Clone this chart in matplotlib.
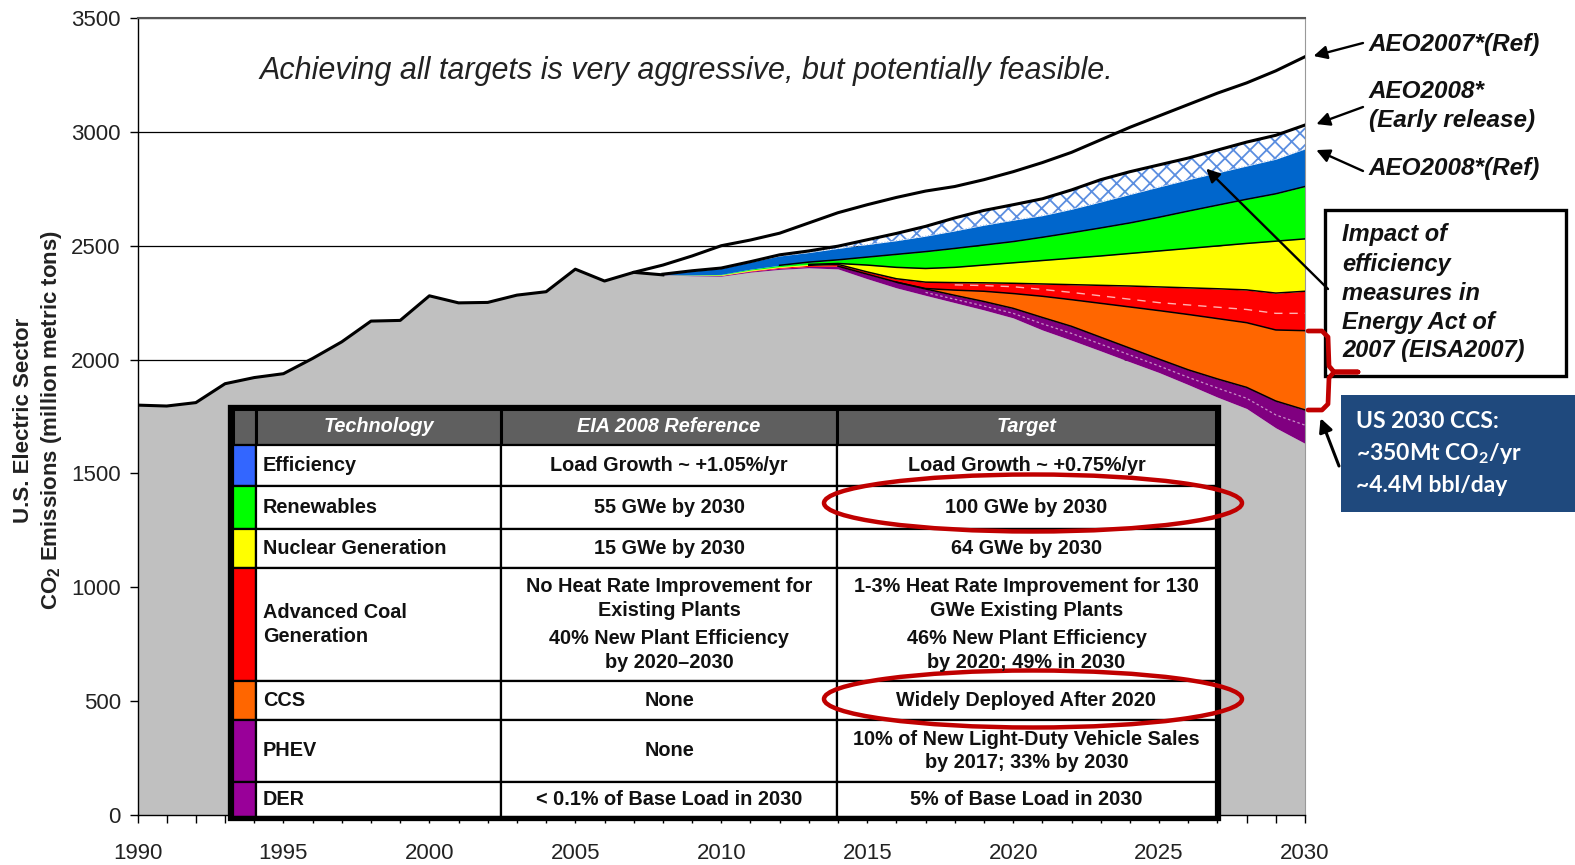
import matplotlib.pyplot as plt
import matplotlib.patches as mpatches
from matplotlib.path import Path

plt.rcParams['font.family'] = ['Liberation Sans', 'DejaVu Sans']
plt.rcParams['mathtext.default'] = 'regular'
plt.rcParams['hatch.linewidth'] = 1.3

W, H = 1575, 865

# historical electric-sector CO2 (million metric tons)
hist_years = list(range(1990, 2008))
hist_co2 = [1800, 1796, 1811, 1894, 1921, 1938, 2005, 2078, 2169, 2172,
            2280, 2249, 2251, 2283, 2298, 2397, 2345, 2383]

# projections, each list is the upper edge of a wedge (stacked from the target up)
proj_years = list(range(2007, 2031))
target = [2383, 2372, 2368, 2366, 2384, 2396, 2403, 2398, 2355, 2315, 2282, 2250,
          2218, 2183, 2130, 2085, 2038, 1990, 1943, 1890, 1835, 1785, 1700, 1632]
phev_der = [2383, 2373, 2370, 2369, 2388, 2401, 2409, 2410, 2375, 2340, 2310, 2282,
            2255, 2225, 2185, 2146, 2098, 2050, 2002, 1955, 1915, 1878, 1818, 1779]
ccs = [2383, 2373, 2370, 2369, 2388, 2401, 2409, 2410, 2375, 2340, 2312, 2305,
       2300, 2290, 2278, 2263, 2247, 2231, 2215, 2198, 2180, 2162, 2130, 2127]
adv_coal = [2383, 2373, 2370, 2370, 2390, 2405, 2414, 2418, 2385, 2355, 2340, 2338,
            2337, 2335, 2332, 2329, 2326, 2323, 2319, 2315, 2311, 2306, 2292, 2300]
nuclear = [2383, 2373, 2371, 2372, 2393, 2408, 2418, 2422, 2415, 2405, 2400, 2405,
           2415, 2425, 2435, 2445, 2455, 2466, 2477, 2488, 2499, 2510, 2520, 2530]
renewables = [2383, 2373, 2372, 2374, 2397, 2414, 2428, 2438, 2450, 2462, 2474, 2488,
              2503, 2518, 2537, 2557, 2578, 2600, 2625, 2652, 2678, 2704, 2728, 2760]
aeo2008_ref = [2383, 2375, 2388, 2400, 2428, 2455, 2470, 2488, 2505, 2522, 2542, 2565,
               2590, 2612, 2632, 2660, 2692, 2725, 2758, 2790, 2820, 2850, 2880, 2925]
aeo2008_early = [2383, 2375, 2390, 2402, 2430, 2460, 2477, 2498, 2526, 2554, 2585, 2622,
                 2655, 2680, 2706, 2745, 2790, 2825, 2855, 2885, 2920, 2955, 2985, 3030]
aeo2007_ref = [2383, 2415, 2455, 2500, 2525, 2555, 2600, 2645, 2680, 2712, 2740, 2760,
               2790, 2825, 2865, 2910, 2965, 3020, 3070, 3120, 3170, 3215, 3268, 3330]

# split lines inside the coal and PHEV/DER wedges
split_years = list(range(2017, 2031))
coal_split = [2330, 2328, 2325, 2320, 2308, 2295, 2280, 2265, 2250, 2240, 2230, 2220, 2203, 2203]
phev_split = [2295, 2265, 2235, 2203, 2157, 2115, 2068, 2020, 1972, 1922, 1875, 1830, 1757, 1712]

# table contents
headers = ['Technology', 'EIA 2008 Reference', 'Target']
tech_names = ['Efficiency', 'Renewables', 'Nuclear Generation', 'Advanced Coal\nGeneration',
              'CCS', 'PHEV', 'DER']
tech_colors = ['#3366ff', '#00ff00', '#ffff00', '#ff0000', '#ff6600', '#990099', '#990099']
eia_2008 = ['Load Growth ~ +1.05%/yr', '55 GWe by 2030', '15 GWe by 2030',
            'No Heat Rate Improvement for\nExisting Plants\n\n40% New Plant Efficiency\nby 2020\u20132030',
            'None', 'None', '< 0.1% of Base Load in 2030']
targets = ['Load Growth ~ +0.75%/yr', '100 GWe by 2030', '64 GWe by 2030',
           '1-3% Heat Rate Improvement for 130\nGWe Existing Plants\n\n46% New Plant Efficiency\nby 2020; 49% in 2030',
           'Widely Deployed After 2020',
           '10% of New Light-Duty Vehicle Sales\nby 2017; 33% by 2030', '5% of Base Load in 2030']

fig = plt.figure(figsize=(W / 100, H / 100), dpi=100)
ax = fig.add_axes([137.5 / W, (H - 815) / H, (1305 - 137.5) / W, (815 - 18) / H])

# gray = remaining emissions (history + target path)
all_years = hist_years + proj_years[1:]
gray_top = hist_co2 + target[1:]
ax.fill_between(all_years, 0, gray_top, color='#c0c0c0', lw=0, zorder=2)

wedges = [(target, phev_der, '#800080'),
          (phev_der, ccs, '#ff6600'),
          (ccs, adv_coal, '#ff0000'),
          (adv_coal, nuclear, '#ffff00'),
          (nuclear, renewables, '#00ff00'),
          (renewables, aeo2008_ref, '#0066cc')]
for lo, hi, col in wedges:
    ax.fill_between(proj_years, lo, hi, color=col, lw=0, zorder=2)

# EISA2007 efficiency impact, cross-hatched
ax.fill_between(proj_years, aeo2008_ref, aeo2008_early, facecolor='white',
                edgecolor='#5b8ee0', hatch='xx', lw=0, zorder=2)
ax.plot(proj_years, aeo2008_ref, color='#9bbcec', lw=0.8, ls=':', zorder=3)

# wedge borders (drawn from the year each wedge opens)
for series, start in [(phev_der, 2014), (ccs, 2016), (adv_coal, 2013),
                      (nuclear, 2013), (renewables, 2012)]:
    i = proj_years.index(start)
    ax.plot(proj_years[i:], series[i:], color='black', lw=1.1, zorder=3)

ax.plot(split_years[1:], coal_split[1:], color='#ffb0b0', lw=1.0, ls=(0, (6, 5)), zorder=3)
ax.plot(split_years, phev_split, color='#c890c8', lw=0.9, ls=(0, (2, 2)), zorder=3)

ax.plot(hist_years + [2008], hist_co2 + [target[1]], color='black', lw=2.2, zorder=4)
ax.plot(proj_years, aeo2007_ref, color='black', lw=2.2, zorder=4)
ax.plot(proj_years[1:], aeo2008_early[1:], color='black', lw=2.2, zorder=4)

ax.set_xlim(1990, 2030)
ax.set_ylim(0, 3500)
ax.set_yticks(range(0, 3501, 500))
ax.set_xticks(range(1990, 2031))
ax.set_xticklabels([str(y) if y % 5 == 0 else '' for y in range(1990, 2031)])
ax.tick_params(axis='both', direction='out', labelsize=16, colors='black')
ax.tick_params(axis='x', length=6, width=1, pad=14)
ax.tick_params(axis='y', length=6, width=1, pad=6)
for lbl in ax.get_yticklabels() + ax.get_xticklabels():
    lbl.set_color('#222222')
ax.yaxis.grid(True, color='black', lw=0.9)
ax.set_axisbelow(True)
ax.spines['top'].set_color('#555555')
ax.spines['top'].set_linewidth(1.5)
ax.spines['right'].set_color('#999999')
ax.spines['left'].set_linewidth(1.0)
ax.spines['bottom'].set_linewidth(1.0)

ax.text(2008.8, 3268, 'Achieving all targets is very aggressive, but potentially feasible.',
        fontsize=22, style='italic', ha='center', va='center', color='#222222', zorder=6)

# overlay in pixel units for the table and callouts
ov = fig.add_axes([0, 0, 1, 1], zorder=5)
ov.set_xlim(0, W)
ov.set_ylim(H, 0)
ov.axis('off')

ov.text(24, 420, 'U.S. Electric Sector', rotation=90, ha='center', va='center',
        fontsize=16, weight='bold', color='#222222')
ov.text(52, 420, 'CO$_2$ Emissions (million metric tons)', rotation=90, ha='center',
        va='center', fontsize=16, weight='bold', color='#222222')


def put_lines(x, yc, text, pitch, **kw):
    lines = text.split('\n')
    y0 = yc - pitch * (len(lines) - 1) / 2
    for k, ln in enumerate(lines):
        ov.text(x, y0 + k * pitch, ln, va='center', **kw)


col_x = [233, 256, 501, 837, 1216]
row_y = [409, 445, 486, 529, 568, 681, 720, 782, 817]
cell_kw = dict(fontsize=14.3, weight='bold', color='#111111')

for c in range(4):
    ov.add_patch(mpatches.Rectangle((col_x[c], row_y[0]), col_x[c + 1] - col_x[c],
                                    row_y[1] - row_y[0], facecolor='#5f5f5f',
                                    edgecolor='black', lw=2.2))
for c, label in enumerate(headers):
    xc = (col_x[c + 1] + col_x[c + 2]) / 2
    ov.text(xc, (row_y[0] + row_y[1]) / 2, label, ha='center', va='center', color='white',
            fontsize=14.3, weight='bold', style='italic')

for r in range(len(tech_names)):
    top, bot = row_y[r + 1], row_y[r + 2]
    ov.add_patch(mpatches.Rectangle((col_x[0], top), col_x[1] - col_x[0], bot - top,
                                    facecolor=tech_colors[r], edgecolor='black', lw=1.6))
    for c in range(1, 4):
        ov.add_patch(mpatches.Rectangle((col_x[c], top), col_x[c + 1] - col_x[c], bot - top,
                                        facecolor='white', edgecolor='black', lw=1.6))
    yc = (top + bot) / 2
    put_lines(263, yc, tech_names[r], 24, ha='left', **cell_kw)
    for c, cell in ((2, eia_2008[r]), (3, targets[r])):
        xc = (col_x[c] + col_x[c + 1]) / 2
        paras = cell.split('\n\n')
        if len(paras) == 1:
            put_lines(xc, yc, cell, 23.5, ha='center', **cell_kw)
        else:
            for p, frac in zip(paras, (0.27, 0.73)):
                put_lines(xc, top + frac * (bot - top), p, 23.5, ha='center', **cell_kw)

ov.add_patch(mpatches.Rectangle((230, 406.5), 988, 411, fill=False, edgecolor='black', lw=3.8))

# circled targets
for yc in (503, 699):
    ov.add_patch(mpatches.Ellipse((1033, yc), 418, 57, fill=False, edgecolor='#c00000', lw=3.2))

# AEO labels and arrows
arrow_kw = dict(arrowstyle='-|>', color='black', lw=1.7, mutation_scale=20, shrinkA=0, shrinkB=2)
lab_kw = dict(fontsize=17.5, weight='bold', style='italic', va='center', color='#111111')
ov.text(1369, 45, 'AEO2007*(Ref)', **lab_kw)
ov.text(1369, 92, 'AEO2008*', **lab_kw)
ov.text(1369, 121, '(Early release)', **lab_kw)
ov.text(1369, 168, 'AEO2008*(Ref)', **lab_kw)
ov.annotate('', xy=(2030.2, aeo2007_ref[-1]), xycoords=ax.transData,
            xytext=(1363, 43), textcoords='data', arrowprops=arrow_kw)
ov.annotate('', xy=(2030.3, aeo2008_early[-1]), xycoords=ax.transData,
            xytext=(1363, 107), textcoords='data', arrowprops=arrow_kw)
ov.annotate('', xy=(2030.3, aeo2008_ref[-1]), xycoords=ax.transData,
            xytext=(1363, 171), textcoords='data', arrowprops=arrow_kw)

# EISA2007 callout box
ov.add_patch(mpatches.Rectangle((1325, 210), 241, 166, facecolor='white',
                                edgecolor='black', lw=2.4))
box_lines = ['Impact of', 'efficiency', 'measures in', 'Energy Act of', '2007 (EISA2007)']
for k, ln in enumerate(box_lines):
    ov.text(1342, 235 + k * 29, ln, fontsize=17, weight='bold', style='italic',
            va='center', color='#111111')
ov.annotate('', xy=(2026.55, 2847), xycoords=ax.transData, xytext=(1328, 289),
            textcoords='data', arrowprops=arrow_kw)

# brace over the CCS wedge at 2030
brace = Path([(1308, 331), (1322, 331), (1328, 337), (1329, 366), (1334, 372), (1358, 372),
              (1334, 372), (1329, 378), (1328, 404), (1322, 410), (1308, 410)])
ov.add_patch(mpatches.PathPatch(brace, fill=False, edgecolor='#c00000', lw=3.4,
                                joinstyle='round', capstyle='round'))

# CCS scale box
ov.add_patch(mpatches.Rectangle((1341, 395), 240, 117, facecolor='#1f497d', edgecolor='none'))
ccs_lines = ['US 2030 CCS:', '~350Mt CO$_2$/yr', '~4.4M bbl/day']
for k, ln in enumerate(ccs_lines):
    ov.text(1356, 421 + k * 32, ln, fontsize=16.5, weight='bold', color='white',
            va='center', family=['Lato', 'DejaVu Sans'])
ov.annotate('', xy=(2030.5, phev_der[-1] - 25), xycoords=ax.transData, xytext=(1339, 466),
            textcoords='data', arrowprops=dict(arrow_kw, lw=2.2))

fig.savefig('out.png', dpi=100)
